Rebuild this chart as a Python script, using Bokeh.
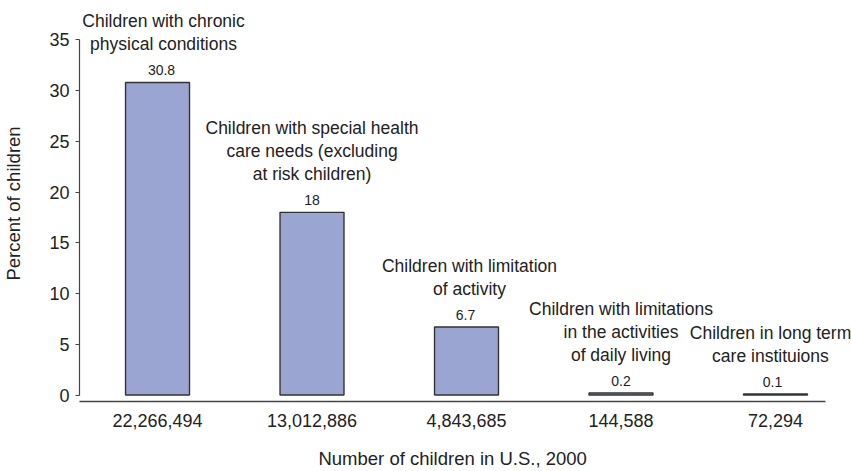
from bokeh.plotting import figure
from bokeh.models import Range1d, FixedTicker, ColumnDataSource
from bokeh.core.properties import value
from bokeh.embed import file_html
from bokeh.resources import INLINE

# Children in the U.S., 2000: group size and share of all children
counts = ["22,266,494", "13,012,886", "4,843,685", "144,588", "72,294"]
percents = [30.8, 18, 6.7, 0.2, 0.1]
value_labels = ["30.8", "18", "6.7", "0.2", "0.1"]
groups = [
    "Children with chronic\nphysical conditions",
    "Children with special health\ncare needs (excluding\nat risk children)",
    "Children with limitation\nof activity",
    "Children with limitations\nin the activities\nof daily living",
    "Children in long term\ncare instituions",
]
y_ticks = [0, 5, 10, 15, 20, 25, 30, 35]
x_title = "Number of children in U.S., 2000"
y_title = "Percent of children"

FONT = "Liberation Sans"
positions = list(range(len(counts)))

# small horizontal nudges (px) that keep the outer captions inside the page
caption_nudge = [6, 0, 3, 0, -5]
value_nudge = [4, 0, -1, 0, -3]

source = ColumnDataSource(dict(
    x=positions, top=percents, label=value_labels, group=groups,
    cdx=caption_nudge, vdx=value_nudge,
))

# the frame runs to the page edge so the last caption is not clipped;
# the x axis line itself stops earlier
X_START, X_AXIS_END, X_END = -0.505, 4.324, 4.492

p = figure(
    width=851, height=471,
    x_range=Range1d(X_START, X_END),
    y_range=Range1d(-0.637, 38.38),
    output_backend="svg", toolbar_location=None,
    min_border_left=79, min_border_right=0,
    min_border_top=5, min_border_bottom=68,
)
p.outline_line_color = None
p.xgrid.grid_line_color = None
p.ygrid.grid_line_color = None
p.background_fill_color = "white"

p.vbar(x="x", top="top", bottom=0, width=0.414, source=source,
       fill_color="#9ba5d2", line_color="#333333", line_width=1.4)

# value above each bar
p.text(x="x", y="top", text="label", source=source,
       x_offset="vdx", y_offset=-12,
       text_font=value(FONT), text_font_size="14px", text_color="#222222",
       text_align="center", text_baseline="alphabetic")

# group description above the value
p.text(x="x", y="top", text="group", source=source,
       x_offset="cdx", y_offset=-28,
       text_font=value(FONT), text_font_size="17.5px", text_color="#222222",
       text_align="center", text_baseline="bottom", text_line_height=1.15)

# axes
xa = p.xaxis[0]
xa.ticker = FixedTicker(ticks=positions)
xa.major_label_overrides = {i: c for i, c in zip(positions, counts)}
xa.bounds = (X_START, X_AXIS_END)
# trailing no-break spaces pull the centred title back under the axis line
xa.axis_label = x_title + "\u00a0" * 5
xa.major_tick_line_color = None
xa.minor_tick_line_color = None
xa.axis_line_color = "#444444"
xa.axis_line_width = 1.5
xa.major_label_standoff = 6
xa.axis_label_standoff = 18

ya = p.yaxis[0]
ya.ticker = FixedTicker(ticks=y_ticks)
ya.bounds = (0, 35)
ya.axis_label = y_title
ya.minor_tick_line_color = None
ya.major_tick_in = 0
ya.major_tick_out = 4
ya.major_tick_line_color = "#444444"
ya.axis_line_color = "#444444"
ya.axis_line_width = 1.2
ya.major_label_standoff = 6
ya.axis_label_standoff = 22

for ax in (xa, ya):
    ax.major_label_text_font = FONT
    ax.major_label_text_font_size = "18px"
    ax.major_label_text_color = "#222222"
    ax.axis_label_text_font = FONT
    ax.axis_label_text_font_size = "18.5px"
    ax.axis_label_text_font_style = "normal"
    ax.axis_label_text_color = "#222222"

open("out.html", "w").write(file_html(p, INLINE))
